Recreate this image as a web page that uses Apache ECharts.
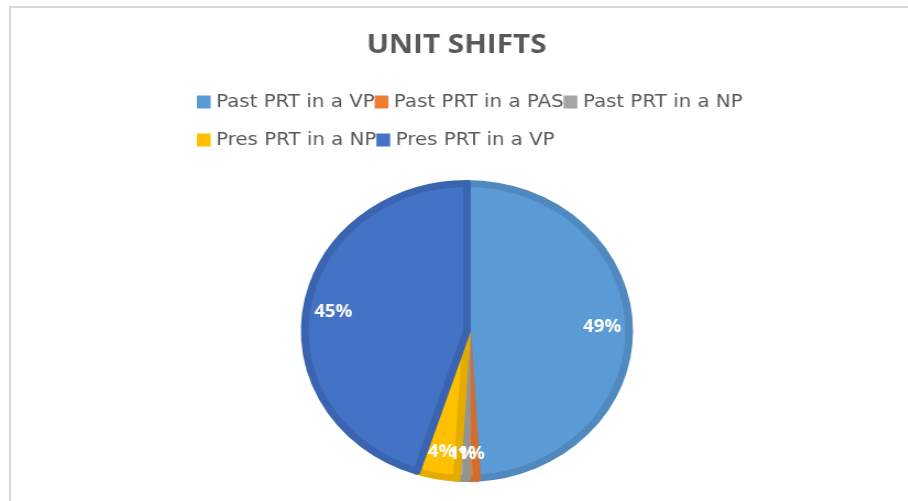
<!doctype html>
<html>
<head>
    <meta charset="UTF-8">
    <title>Unit shifts</title>
    <script src="https://cdn.jsdelivr.net/npm/echarts@6/dist/echarts.min.js"></script>
    <style>
        html, body { margin: 0; padding: 0; background: #fff; overflow: hidden; }
        #frame { position: absolute; left: 9px; top: 6px; width: 1000px; height: 1000px;
                 border: 2px solid #d9d9d9; }
        /* the source picture is stretched sideways, so the whole chart is too */
        #main { position: absolute; left: 0; top: 0; width: 826px; height: 501px;
                transform: scaleX(1.1); transform-origin: 0 0; }
    </style>
</head>
<body>
<div id="frame"></div>
<div id="main"></div>
<script>
    var categories = ['Past PRT in a VP', 'Past PRT in a PAS', 'Past PRT in a NP', 'Pres PRT in a NP', 'Pres PRT in a VP'];
    var shares = [49, 1, 1, 4, 45];
    var fills = ['#5b9bd5', '#ed7d31', '#a5a5a5', '#ffc000', '#4472c4'];
    var edges = ['#4f89bf', '#d36e2a', '#939393', '#e5ac00', '#3b64b0'];

    var pieData = categories.map(function (name, i) {
        return { name: name, value: shares[i], itemStyle: { color: fills[i], borderColor: edges[i] } };
    });
    // same values again, only to place the % labels nearer the rim
    var labelData = categories.map(function (name, i) {
        return { name: name, value: shares[i] };
    });

    var legendText = { color: '#595959', fontSize: 18, lineHeight: 22, fontFamily: 'DejaVu Sans' };
    var legendBase = {
        left: 179, padding: 0,
        itemGap: 0, itemWidth: 12.5, itemHeight: 13, icon: 'rect',
        itemStyle: { borderWidth: 0 },
        textStyle: legendText
    };

    var myChart = echarts.init(document.getElementById('main'));
    myChart.setOption({
        animation: false,
        title: {
            text: 'UNIT SHIFTS',
            left: 410,
            top: 27,
            textAlign: 'center',
            textStyle: { color: '#595959', fontSize: 27, fontWeight: 'bold', fontFamily: 'Open Sans' }
        },
        legend: [
            Object.assign({ data: categories.slice(0, 3), top: 91 }, legendBase),
            Object.assign({ data: categories.slice(3), top: 129 }, legendBase)
        ],
        series: [
            {
                type: 'pie',
                center: [424.5, 331],
                radius: 147.5,
                startAngle: 90,
                clockwise: true,
                label: { show: false },
                labelLine: { show: false },
                emphasis: { disabled: true },
                itemStyle: { borderWidth: 7 },
                data: pieData
            },
            {
                type: 'pie',
                center: [424.5, 331],
                radius: [92, 148],
                startAngle: 90,
                clockwise: true,
                silent: true,
                itemStyle: { color: 'rgba(0,0,0,0)' },
                label: {
                    show: true,
                    position: 'inside',
                    formatter: '{c}%',
                    color: '#fff',
                    fontSize: 17,
                    fontWeight: 'bold',
                    fontFamily: 'Open Sans'
                },
                labelLayout: { hideOverlap: false },
                labelLine: { show: false },
                emphasis: { disabled: true },
                data: labelData
            }
        ]
    });
</script>
</body>
</html>
